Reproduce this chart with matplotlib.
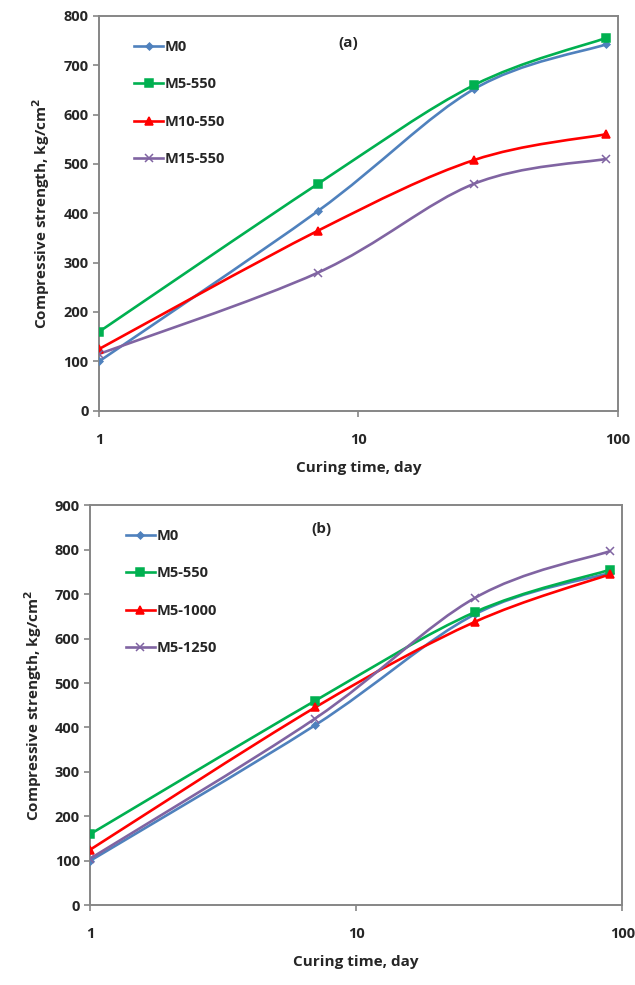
import numpy as np
import matplotlib
matplotlib.use("Agg")
import matplotlib.pyplot as plt
from matplotlib.path import Path
from matplotlib.patches import PathPatch
from matplotlib.lines import Line2D

plt.rcParams['font.family'] = ['Open Sans', 'DejaVu Sans']
plt.rcParams['font.weight'] = 'bold'

days = [1, 7, 28, 90]

# panel (a)
labels_a = ["M0", "M5-550", "M10-550", "M15-550"]
m0_a = [100, 405, 652, 742]
m5_550_a = [160, 460, 660, 755]
m10_550_a = [125, 365, 508, 560]
m15_550_a = [115, 280, 460, 510]

# panel (b)
labels_b = ["M0", "M5-550", "M5-1000", "M5-1250"]
m0_b = [100, 405, 655, 748]
m5_550_b = [160, 460, 660, 755]
m5_1000_b = [125, 445, 638, 745]
m5_1250_b = [105, 420, 692, 797]

colors = ["#4F81BD", "#00B050", "#FF0000", "#8064A2"]
markers = ["D", "s", "^", "x"]
msizes = [3.5, 6, 6, 5.5]


def smooth_line(ax, x, y, ymax, color, W, H):
    # excel-like smoothed line, control points worked out in screen-ish space
    u = np.log10(np.array(x, float)) / 2 * W
    v = np.array(y, float) / ymax * H
    P = np.column_stack([u, v])
    n = len(P)
    verts = [P[0]]
    codes = [Path.MOVETO]
    for i in range(n - 1):
        p0 = P[max(i - 1, 0)]
        p3 = P[min(i + 2, n - 1)]
        c1 = P[i] + (P[i + 1] - p0) / 6.
        c2 = P[i + 1] - (p3 - P[i]) / 6.
        verts += [c1, c2, P[i + 1]]
        codes += [Path.CURVE4] * 3
    verts = np.array(verts)
    dx = 10 ** (verts[:, 0] / W * 2)
    dy = verts[:, 1] / H * ymax
    path = Path(np.column_stack([dx, dy]), codes)
    ax.add_patch(PathPatch(path, fill=False, edgecolor=color, lw=1.9,
                           transform=ax.transData, zorder=2))


def panel(ax, series, labels, ymax, tag, tagpos, legpos, W, H):
    ax.set_xscale('log')
    ax.set_xlim(1, 100)
    ax.set_ylim(0, ymax)
    handles = []
    for k in range(4):
        smooth_line(ax, days, series[k], ymax, colors[k], W, H)
        ax.plot(days, series[k], ls='none', marker=markers[k], ms=msizes[k],
                color=colors[k], mew=1.1, zorder=3)
        handles.append(Line2D([], [], color=colors[k], lw=1.9, marker=markers[k],
                              ms=msizes[k], mew=1.1))
    ax.legend(handles, labels, loc='upper left', bbox_to_anchor=legpos,
              frameon=False, fontsize=10.5, labelspacing=1.6,
              handlelength=2.0, handletextpad=0.1, borderaxespad=0,
              labelcolor='#262626')
    ax.text(tagpos[0], tagpos[1], tag, transform=ax.transAxes, fontsize=11,
            fontweight='bold', color='#262626', ha='center', va='center')
    ax.set_yticks(np.arange(0, ymax + 1, 100))
    ax.set_xticks([1, 10, 100])
    ax.set_xticklabels(["1", "10", "100"])
    ax.xaxis.set_minor_locator(matplotlib.ticker.NullLocator())
    for s in ax.spines.values():
        s.set_color('#868686')
        s.set_linewidth(1.4)
    ax.tick_params(axis='both', colors='#868686', labelcolor='#262626',
                   labelsize=10.5, length=4, width=1.2)
    ax.tick_params(axis='x', pad=12)
    ax.set_xlabel("Curing time, day", fontsize=11, fontweight='bold',
                  color='#262626', labelpad=10)
    ax.set_ylabel("Compressive strength, kg/cm$^\\mathbf{2}$", fontsize=11,
                  fontweight='bold', color='#262626', labelpad=8)


fig = plt.figure(figsize=(6.35, 9.85), dpi=100)

ax1 = fig.add_axes([0.156, 0.583, 0.817, 0.401])
panel(ax1, [m0_a, m5_550_a, m10_550_a, m15_550_a], labels_a, 800, "(a)",
      (0.48, 0.93), (0.056, 0.953), 519, 395)

ax2 = fig.add_axes([0.142, 0.081, 0.838, 0.406])
panel(ax2, [m0_b, m5_550_b, m5_1000_b, m5_1250_b], labels_b, 900, "(b)",
      (0.434, 0.94), (0.056, 0.955), 532, 400)

fig.savefig("out.png", dpi=100)
